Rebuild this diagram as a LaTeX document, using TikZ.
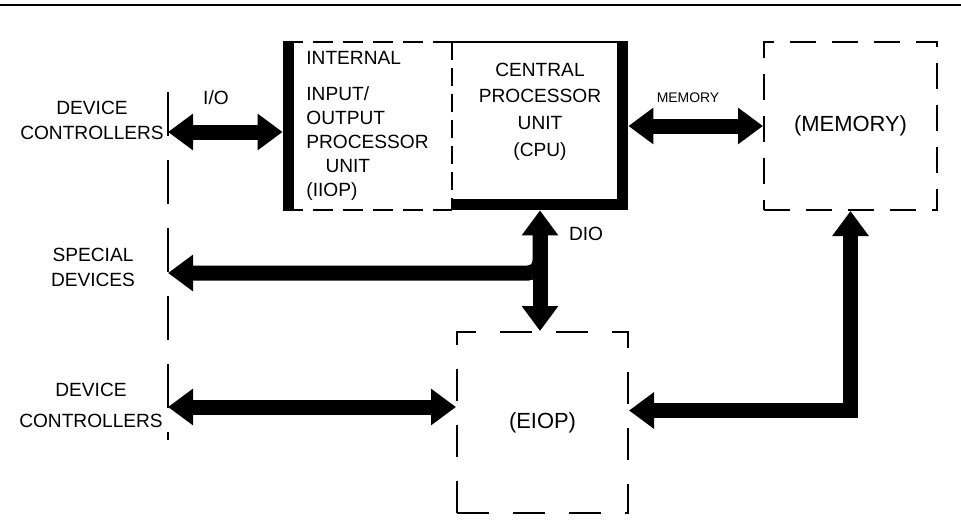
\documentclass[tikz,border=0pt]{standalone}
\usepackage{fontspec}
\setmainfont{Liberation Sans}
\usetikzlibrary{arrows.meta,positioning}

\begin{document}
\begin{tikzpicture}[
  >={Triangle[width=17.5bp,length=12.5bp]},
  bus/.style={line width=7.5bp},
  unit/.style={minimum width=#1,minimum height=84bp,inner sep=0pt},
  txt/.style={font=\fontsize{9.6}{12}\selectfont,align=center},
  big/.style={font=\fontsize{11}{13}\selectfont},
  thin/.style={line width=1bp},
  heavy/.style={line width=5.5bp},
]
\useasboundingbox (0,0) rectangle (480.5bp,-265.5bp);
\draw [line width=1.2bp] (0,-2.5bp) -- (480.5bp,-2.5bp);

\node (IIOP) at (183.75bp,-63bp)[unit=84.5bp,txt,align=left] {INTERNAL\\[6bp]INPUT/\\OUTPUT\\PROCESSOR\\\hspace{1em}UNIT\\(IIOP)};
\node (CPU) at (270bp,-63bp)[unit=88bp] {};
\node (cputxt) [below=7bp of CPU.north,txt] {CENTRAL\\[1.5bp]PROCESSOR\\[1.5bp]UNIT\\[1.5bp](CPU)};
\node (MEM) at (425.25bp,-63bp)[unit=86.5bp,big,draw,thin,dash pattern=on 13bp off 8bp] {(MEMORY)};
\node (EIOP) at (271.25bp,-211.25bp)[unit=85.5bp,minimum height=90.5bp,big,draw,thin,dash pattern=on 16bp off 12bp] {(EIOP)};

% outline of the processor pair
\draw [thin,dash pattern=on 10bp off 5bp] (IIOP.north west) -- (IIOP.north east);
\draw [thin,dash pattern=on 10bp off 5bp] (IIOP.south west) -- (IIOP.south east);
\draw [thin,dash pattern=on 9bp off 4bp] (IIOP.north east) -- (IIOP.south east);
\draw [thin] (CPU.north west) -- (CPU.north east);
\draw [heavy] ([xshift=2.75bp]IIOP.north west) -- ([xshift=2.75bp]IIOP.south west);
\draw [heavy,line join=miter] ([xshift=-2.75bp]CPU.north east) -- ([shift={(-2.75bp,2.75bp)}]CPU.south east) -- ([yshift=2.75bp]CPU.south west);

% boundary of the outside world
\coordinate (top) at (84bp,-46bp);
\coordinate (bot) at (84bp,-220bp);
\coordinate (io) at (84bp,-66bp);
\coordinate (sp) at (84bp,-136.5bp);
\coordinate (dc) at (84bp,-203.5bp);
\draw [thin,dash pattern=on 22bp off 12bp] (top) -- (bot);

\node (dc1) at (46bp,-60bp)[txt] {DEVICE\\[0.5bp]CONTROLLERS};
\node (sd) at (46.5bp,-133.75bp)[txt] {SPECIAL\\[0.5bp]DEVICES};
\node (dc2) at (45.5bp,-202.5bp)[txt] {DEVICE\\[3.5bp]CONTROLLERS};
\node (iolbl) at (108bp,-49bp)[txt] {I/O};
\node (memlbl) at (344bp,-49bp)[font=\fontsize{7}{8}\selectfont] {MEMORY};
\node (diolbl) at (293bp,-117bp)[txt] {DIO};

\draw [<->,bus] (io) -- (io -| IIOP.west);
\draw [<->,bus] (CPU.east) -- (MEM.west);
\draw [<->,bus] (CPU.south) -- (CPU.south |- EIOP.north);
\draw [<-,bus,rounded corners=6bp] (sp) -| ([yshift=-12bp]CPU.south);
\draw [<->,bus] (dc) -- (dc -| EIOP.west);
\draw [<->,bus,line join=miter] (MEM.south) |- ([yshift=6bp]EIOP.east);
\end{tikzpicture}
\end{document}
